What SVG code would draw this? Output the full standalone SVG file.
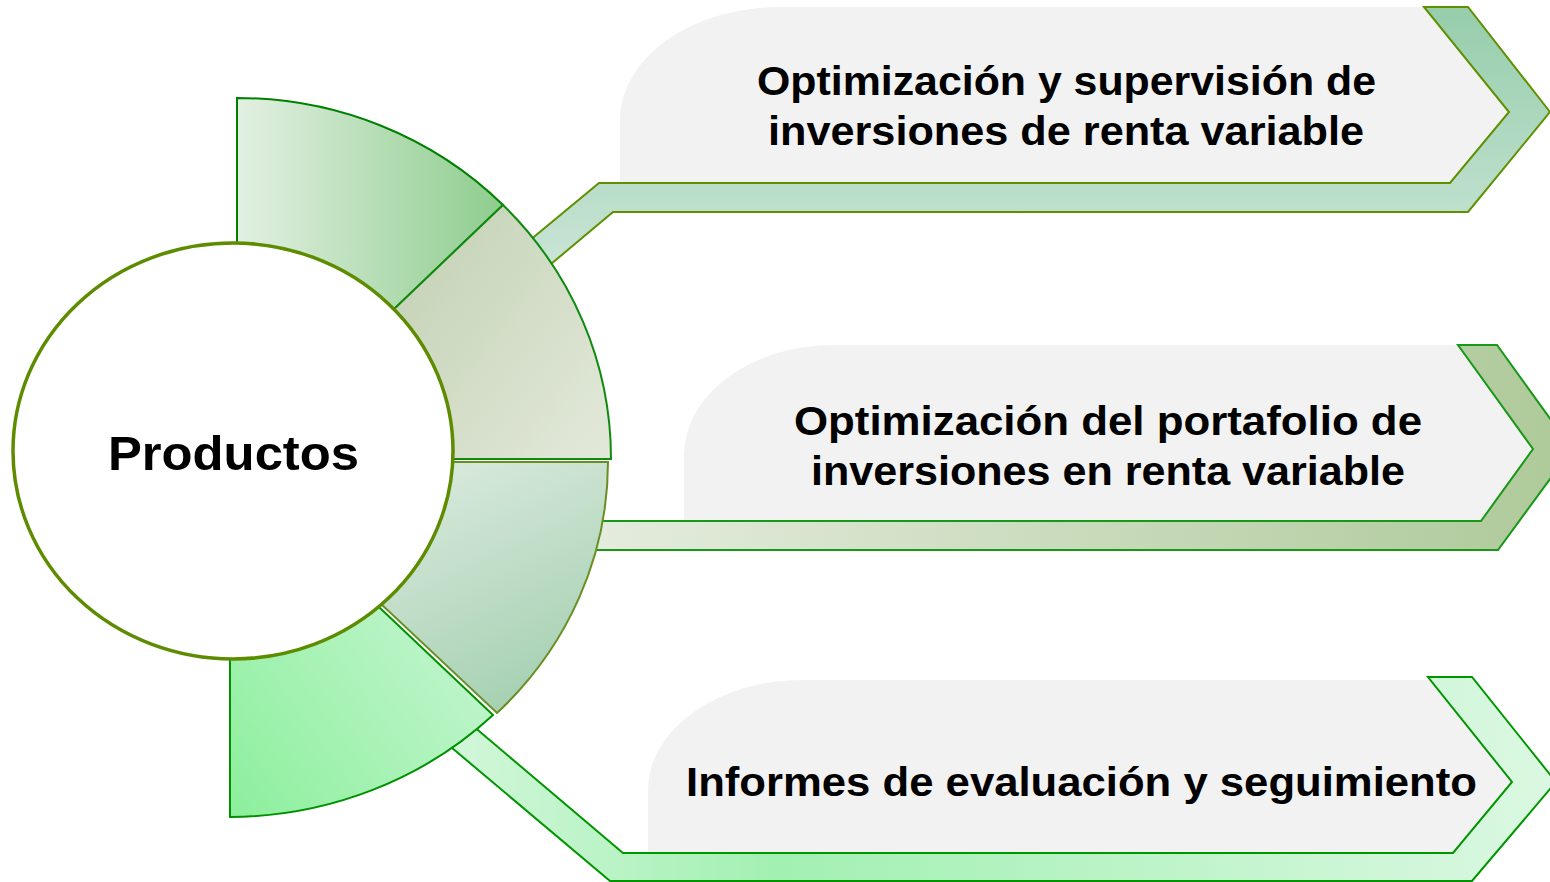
<svg xmlns="http://www.w3.org/2000/svg" width="1550" height="882" viewBox="0 0 1550 882">
  <defs>
    <linearGradient id="gA1" gradientUnits="userSpaceOnUse" x1="0" y1="7" x2="0" y2="260">
      <stop offset="0" stop-color="#96cdab"/>
      <stop offset="1" stop-color="#c8e4d5"/>
    </linearGradient>
    <linearGradient id="gA2" gradientUnits="userSpaceOnUse" x1="600" y1="0" x2="1550" y2="0">
      <stop offset="0" stop-color="#e4ecdd"/>
      <stop offset="1" stop-color="#afca9b"/>
    </linearGradient>
    <linearGradient id="gA3" gradientUnits="userSpaceOnUse" x1="440" y1="0" x2="1556" y2="0">
      <stop offset="0" stop-color="#d4f7db"/>
      <stop offset="0.3" stop-color="#a2f0b2"/>
      <stop offset="1" stop-color="#dbf8e2"/>
    </linearGradient>
    <linearGradient id="gS1" gradientUnits="userSpaceOnUse" x1="237" y1="0" x2="503" y2="0">
      <stop offset="0" stop-color="#e3f0e2"/>
      <stop offset="1" stop-color="#8ecd8e"/>
    </linearGradient>
    <linearGradient id="gS2" gradientUnits="userSpaceOnUse" x1="400" y1="300" x2="611" y2="459">
      <stop offset="0" stop-color="#c8d5ba"/>
      <stop offset="1" stop-color="#e3e9da"/>
    </linearGradient>
    <linearGradient id="gS3" gradientUnits="userSpaceOnUse" x1="450" y1="470" x2="560" y2="700">
      <stop offset="0" stop-color="#d6e8da"/>
      <stop offset="1" stop-color="#a3cfb0"/>
    </linearGradient>
    <linearGradient id="gS4" gradientUnits="userSpaceOnUse" x1="230" y1="818" x2="480" y2="640">
      <stop offset="0" stop-color="#8cef9c"/>
      <stop offset="1" stop-color="#c2f5ce"/>
    </linearGradient>
  </defs>
  <style>
    .box { fill: #f2f2f2; stroke: none; }
    .lbl { font-family: "Liberation Sans", Arial, sans-serif; font-weight: bold; font-size: 40px; fill: #000; }
    .seg { stroke-width: 2; stroke-linejoin: miter; }
    .arr { stroke-width: 2; stroke-linejoin: miter; }
  </style>

  <g id="node-1">
    <path class="box" d="M620,183 L620,120 A160,113 0 0 1 780,7 L1424,7 L1509,112 L1450,183 Z"/>
    <text class="lbl" x="757" y="95" textLength="619" lengthAdjust="spacingAndGlyphs">Optimización y supervisión de</text>
    <text class="lbl" x="768" y="145" textLength="596" lengthAdjust="spacingAndGlyphs">inversiones de renta variable</text>
  </g>
  <g id="node-2">
    <path class="box" d="M684,521 L684,455 A150,110 0 0 1 834,345 L1458,345 L1533,449 L1481,521 Z"/>
    <text class="lbl" x="794" y="435" textLength="628" lengthAdjust="spacingAndGlyphs">Optimización del portafolio de</text>
    <text class="lbl" x="811" y="485" textLength="594" lengthAdjust="spacingAndGlyphs">inversiones en renta variable</text>
  </g>
  <g id="node-3">
    <path class="box" d="M648,852 L648,790 A155,110 0 0 1 803,680 L1430,680 L1512,782 L1453,853 Z"/>
    <text class="lbl" x="686" y="796" textLength="791" lengthAdjust="spacingAndGlyphs">Informes de evaluación y seguimiento</text>
  </g>

  <g id="connectors">
    <polygon class="arr" fill="url(#gA1)" stroke="#5f9000" points="500,265 599,183 1450,183 1509,112 1424,7 1468,7 1550,112 1468,212 613,212 520,290"/>
    <polygon class="arr" fill="url(#gA2)" stroke="#179917" points="560,521 1481,521 1533,449 1458,345 1497,345 1572,449 1498,550 560,550"/>
    <polygon class="arr" fill="url(#gA3)" stroke="#009600" points="440,698 623,853 1453,853 1512,782 1428,677 1472,677 1556,782 1472,881 610,881 420,721"/>
  </g>

  <g id="ring">
    <path id="seg-1" class="seg" fill="url(#gS1)" stroke="#008000" d="M237,459 L237,98 A374,361 0 0 1 503,205 Z"/>
    <path id="seg-2" class="seg" fill="url(#gS2)" stroke="#0f8a0f" d="M237,459 L503,205 A374,361 0 0 1 611,459 Z"/>
    <path id="seg-3" class="seg" fill="url(#gS3)" stroke="#6b8e23" d="M230,462 L608,462 A378,355 0 0 1 497,713 Z"/>
    <path id="seg-4" class="seg" fill="url(#gS4)" stroke="#009000" d="M230,466 L493,715 A378,355 0 0 1 230,817 Z"/>
  </g>

  <g id="center">
    <ellipse cx="233" cy="451" rx="220" ry="208" fill="#ffffff" stroke="#5e8c00" stroke-width="3.5"/>
    <text class="lbl" x="108" y="470" style="font-size:49px" textLength="251" lengthAdjust="spacingAndGlyphs">Productos</text>
  </g>
</svg>
